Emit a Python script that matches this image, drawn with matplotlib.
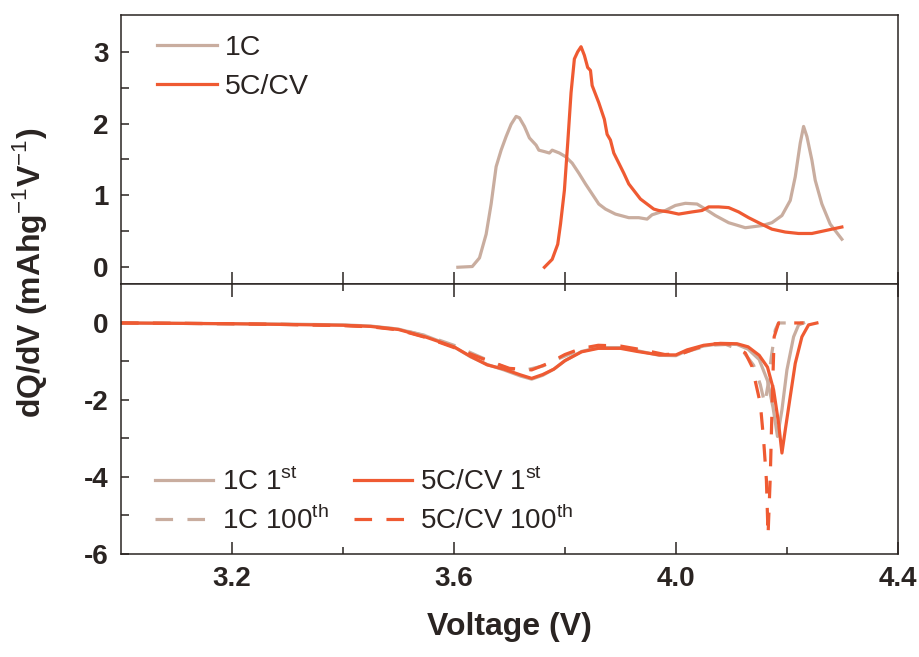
"""
Differential capacity (dQ/dV) curves, charge (top) and discharge (bottom).
"""

import numpy as np
import matplotlib as mpl
mpl.use("Agg")
import matplotlib.pyplot as plt
from matplotlib.ticker import FixedLocator, NullFormatter

plt.rcParams["font.family"] = ["Liberation Sans", "DejaVu Sans"]
plt.rcParams["mathtext.fontset"] = "custom"
plt.rcParams["mathtext.rm"] = "Liberation Sans"
plt.rcParams["mathtext.bf"] = "Liberation Sans:bold"
plt.rcParams["axes.unicode_minus"] = False

TAN = "#c9ad9f"
ORANGE = "#ef5a32"
INK = "#2a2422"

# ---- top panel (charge) ----
v_1c = [3.607, 3.633, 3.646, 3.658, 3.667, 3.676, 3.685, 3.694, 3.703, 3.712, 3.718,
        3.727, 3.736, 3.748, 3.753, 3.763, 3.772, 3.777, 3.790, 3.801, 3.813, 3.825,
        3.837, 3.849, 3.861, 3.873, 3.891, 3.915, 3.933, 3.948, 3.957, 3.981, 3.999,
        4.017, 4.038, 4.053, 4.071, 4.095, 4.125, 4.155, 4.173, 4.191, 4.206, 4.215,
        4.224, 4.230, 4.236, 4.245, 4.251, 4.263, 4.278, 4.299]
q_1c = [0.00, 0.01, 0.13, 0.46, 0.88, 1.40, 1.63, 1.82, 1.99, 2.10, 2.08,
        1.96, 1.80, 1.70, 1.63, 1.61, 1.59, 1.63, 1.59, 1.54, 1.45, 1.31,
        1.16, 1.02, 0.88, 0.81, 0.74, 0.69, 0.69, 0.67, 0.73, 0.79, 0.86,
        0.89, 0.88, 0.81, 0.72, 0.62, 0.55, 0.58, 0.62, 0.72, 0.93, 1.26,
        1.73, 1.96, 1.82, 1.49, 1.21, 0.88, 0.60, 0.39]

v_5c = [3.763, 3.777, 3.787, 3.792, 3.799, 3.805, 3.811, 3.817, 3.823, 3.829, 3.835,
        3.841, 3.846, 3.849, 3.861, 3.871, 3.876, 3.882, 3.888, 3.897, 3.906, 3.915,
        3.924, 3.936, 3.948, 3.960, 3.969, 3.987, 4.005, 4.029, 4.047, 4.059, 4.077,
        4.095, 4.113, 4.131, 4.149, 4.173, 4.197, 4.221, 4.245, 4.263, 4.281, 4.299]
q_5c = [0.00, 0.11, 0.32, 0.60, 1.07, 1.73, 2.43, 2.90, 3.00, 3.07, 2.95,
        2.78, 2.74, 2.53, 2.29, 2.06, 1.85, 1.77, 1.59, 1.45, 1.31, 1.16,
        1.07, 0.95, 0.88, 0.81, 0.79, 0.77, 0.74, 0.77, 0.79, 0.84, 0.84,
        0.83, 0.77, 0.69, 0.62, 0.53, 0.49, 0.47, 0.47, 0.50, 0.53, 0.56]

# ---- bottom panel (discharge) ----
v_1c_1st = [3.00, 3.10, 3.20, 3.30, 3.40, 3.45, 3.50, 3.55, 3.60, 3.63, 3.66, 3.69,
            3.72, 3.74, 3.76, 3.78, 3.80, 3.83, 3.86, 3.90, 3.93, 3.97, 4.00, 4.02,
            4.05, 4.08, 4.11, 4.13, 4.15, 4.165, 4.175, 4.183, 4.191, 4.200, 4.212,
            4.221, 4.230]
q_1c_1st = [0.00, -0.01, -0.02, -0.03, -0.05, -0.08, -0.16, -0.34, -0.62, -0.88, -1.08, -1.22,
            -1.38, -1.46, -1.36, -1.20, -0.98, -0.74, -0.64, -0.64, -0.72, -0.84, -0.85, -0.72,
            -0.60, -0.54, -0.56, -0.68, -0.95, -1.50, -2.20, -2.95, -2.26, -1.22, -0.36,
            -0.05, 0.00]

v_1c_100 = [3.00, 3.10, 3.20, 3.30, 3.40, 3.45, 3.50, 3.55, 3.60, 3.65, 3.70, 3.73,
            3.76, 3.79, 3.82, 3.85, 3.89, 3.93, 3.97, 4.00, 4.03, 4.06, 4.09, 4.12,
            4.14, 4.152, 4.160, 4.166, 4.172, 4.179, 4.185, 4.230]
q_1c_100 = [0.00, -0.01, -0.02, -0.04, -0.06, -0.09, -0.16, -0.33, -0.58, -0.90, -1.20, -1.22,
            -1.12, -0.92, -0.74, -0.64, -0.62, -0.70, -0.82, -0.84, -0.70, -0.58, -0.56, -0.72,
            -1.10, -1.60, -2.10, -1.60, -0.87, -0.18, 0.00, 0.00]

v_5c_1st = [3.00, 3.10, 3.20, 3.30, 3.40, 3.45, 3.50, 3.55, 3.60, 3.63, 3.66, 3.69,
            3.72, 3.74, 3.76, 3.78, 3.80, 3.83, 3.86, 3.90, 3.93, 3.97, 4.00, 4.02,
            4.05, 4.08, 4.11, 4.13, 4.15, 4.165, 4.176, 4.185, 4.191, 4.197, 4.206,
            4.215, 4.227, 4.239, 4.254]
q_5c_1st = [0.00, -0.01, -0.02, -0.04, -0.06, -0.09, -0.17, -0.37, -0.62, -0.87, -1.09, -1.20,
            -1.35, -1.44, -1.34, -1.20, -0.98, -0.75, -0.66, -0.66, -0.74, -0.83, -0.83, -0.70,
            -0.58, -0.53, -0.54, -0.62, -0.84, -1.15, -1.74, -2.61, -3.38, -2.78, -1.91,
            -1.05, -0.36, -0.05, 0.00]

v_5c_100 = [3.00, 3.10, 3.20, 3.30, 3.40, 3.45, 3.50, 3.55, 3.60, 3.65, 3.70, 3.74,
            3.77, 3.80, 3.83, 3.86, 3.90, 3.94, 3.98, 4.01, 4.04, 4.07, 4.10, 4.125,
            4.137, 4.152, 4.158, 4.163, 4.166, 4.170, 4.172, 4.174, 4.177, 4.185, 4.230]
q_5c_100 = [0.00, -0.01, -0.02, -0.04, -0.07, -0.10, -0.18, -0.38, -0.64, -0.92, -1.18, -1.22,
            -1.05, -0.82, -0.66, -0.58, -0.60, -0.70, -0.82, -0.80, -0.64, -0.54, -0.55, -0.78,
            -1.13, -2.09, -3.04, -4.08, -5.51, -3.99, -2.86, -1.74, -0.36, 0.00, 0.00]

x_major = [3.2, 3.6, 4.0, 4.4]
x_minor = [3.4, 3.8, 4.2]

LW = 2.3
DASH = (5.5, 4.5)

fig = plt.figure(figsize=(9.2, 6.57), dpi=100)
gs = fig.add_gridspec(2, 1, hspace=0, left=0.1315, right=0.976, top=0.977, bottom=0.157)
ax1 = fig.add_subplot(gs[0])
ax2 = fig.add_subplot(gs[1], sharex=ax1)

ax1.plot(v_1c, q_1c, color=TAN, lw=LW, label="1C")
ax1.plot(v_5c, q_5c, color=ORANGE, lw=LW, label="5C/CV")

ax2.plot(v_1c_1st, q_1c_1st, color=TAN, lw=LW, label="1C 1$^{\\rm st}$")
ax2.plot(v_1c_100, q_1c_100, color=TAN, lw=LW, dashes=DASH, label="1C 100$^{\\rm th}$")
ax2.plot(v_5c_100, q_5c_100, color=ORANGE, lw=LW, dashes=DASH, label="5C/CV 100$^{\\rm th}$")
ax2.plot(v_5c_1st, q_5c_1st, color=ORANGE, lw=LW, label="5C/CV 1$^{\\rm st}$")

ax1.set_xlim(3.0, 4.4)
ax1.set_ylim(-0.24, 3.51)
ax2.set_ylim(-6, 1.0)

for ax in (ax1, ax2):
    for sp in ax.spines.values():
        sp.set_color(INK)
        sp.set_linewidth(1.1)

# top panel ticks
ax1.yaxis.set_major_locator(FixedLocator([0, 1, 2, 3]))
ax1.yaxis.set_minor_locator(FixedLocator([0.5, 1.5, 2.5]))
ax1.tick_params(axis="y", which="both", direction="in", length=6, width=1.1,
                color=INK, left=True, right=False, labelsize=20, pad=9, labelcolor=INK)
ax1.tick_params(axis="x", which="both", direction="in", length=9, width=1.1,
                color=INK, top=False, bottom=True, labelbottom=False)

# bottom panel ticks
ax2.xaxis.set_major_locator(FixedLocator(x_major))
ax2.xaxis.set_minor_locator(FixedLocator(x_minor))
ax2.xaxis.set_major_formatter(lambda v, _: f"{v:.1f}")
ax2.xaxis.set_minor_formatter(NullFormatter())
ax2.yaxis.set_major_locator(FixedLocator([-6, -4, -2, 0]))
ax2.yaxis.set_minor_locator(FixedLocator([-5, -3, -1]))
ax2.tick_params(axis="y", which="both", direction="in", length=6, width=1.1,
                color=INK, left=True, right=False, labelsize=20, pad=9, labelcolor=INK)
ax2.tick_params(axis="x", which="major", direction="in", length=9, width=1.1,
                color=INK, top=True, bottom=True, labelsize=20, pad=9, labelcolor=INK)
ax2.tick_params(axis="x", which="minor", direction="in", length=5, width=1.1,
                color=INK, top=True, bottom=True)

for lab in ax1.get_yticklabels() + ax2.get_yticklabels() + ax2.get_xticklabels():
    lab.set_fontweight("bold")

ax2.set_xlabel("Voltage (V)", fontsize=23, fontweight="bold", color=INK, labelpad=14)
fig.text(0.032, 0.585, "dQ/dV (mAhg$^{\\rm{-}1}$V$^{\\rm{-}1}$)", rotation=90,
         ha="center", va="center", fontsize=23, fontweight="bold", color=INK)

ax1.legend(loc="upper left", bbox_to_anchor=(0.046, 0.925), frameon=False, fontsize=20.5,
           handlelength=2.1, handletextpad=0.3, borderpad=0, borderaxespad=0,
           labelspacing=0.45, labelcolor=INK)

h, l = ax2.get_legend_handles_labels()
order = [0, 1, 3, 2]
ax2.legend([h[i] for i in order], [l[i] for i in order], ncol=2, loc="upper left",
           bbox_to_anchor=(0.044, 0.32), frameon=False, fontsize=20,
           handlelength=2.1, handletextpad=0.3, borderpad=0, borderaxespad=0,
           labelspacing=0.35, columnspacing=0.9, labelcolor=INK)

fig.savefig("out.png", dpi=100)
